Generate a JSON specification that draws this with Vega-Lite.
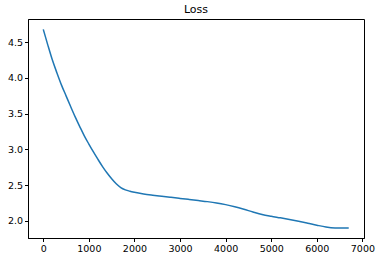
{
  "$schema": "https://vega.github.io/schema/vega-lite/v6.json",
  "autosize": {"type": "none"},
  "padding": {"left": 28, "top": 19, "right": 14, "bottom": 23},
  "width": 336,
  "height": 219,
  "title": {"text": "Loss", "font": "DejaVu Sans", "fontSize": 11, "fontWeight": "normal", "color": "#000000", "offset": 4},
  "config": {
    "view": {"stroke": "#000000", "strokeWidth": 1},
    "axis": {
      "grid": false,
      "domainColor": "#000000",
      "domainWidth": 1,
      "tickColor": "#000000",
      "tickSize": 3.5,
      "tickWidth": 1,
      "labelFont": "DejaVu Sans",
      "labelFontSize": 9.5,
      "labelColor": "#000000",
      "labelPadding": 2,
      "title": null
    }
  },
  "data": {
    "values": [
      {"step": 0, "loss": 4.68},
      {"step": 100, "loss": 4.46},
      {"step": 200, "loss": 4.25},
      {"step": 300, "loss": 4.07},
      {"step": 400, "loss": 3.9},
      {"step": 500, "loss": 3.75},
      {"step": 600, "loss": 3.6},
      {"step": 700, "loss": 3.455},
      {"step": 800, "loss": 3.32},
      {"step": 900, "loss": 3.19},
      {"step": 1000, "loss": 3.075},
      {"step": 1100, "loss": 2.965},
      {"step": 1200, "loss": 2.86},
      {"step": 1300, "loss": 2.76},
      {"step": 1400, "loss": 2.67},
      {"step": 1500, "loss": 2.59},
      {"step": 1600, "loss": 2.52},
      {"step": 1700, "loss": 2.467},
      {"step": 1800, "loss": 2.435},
      {"step": 1900, "loss": 2.415},
      {"step": 2000, "loss": 2.4},
      {"step": 2200, "loss": 2.377},
      {"step": 2400, "loss": 2.36},
      {"step": 2600, "loss": 2.345},
      {"step": 2800, "loss": 2.33},
      {"step": 3000, "loss": 2.315},
      {"step": 3200, "loss": 2.3},
      {"step": 3400, "loss": 2.285},
      {"step": 3600, "loss": 2.27},
      {"step": 3800, "loss": 2.252},
      {"step": 4000, "loss": 2.228},
      {"step": 4200, "loss": 2.198},
      {"step": 4400, "loss": 2.163},
      {"step": 4600, "loss": 2.125},
      {"step": 4800, "loss": 2.09},
      {"step": 5000, "loss": 2.065},
      {"step": 5200, "loss": 2.043},
      {"step": 5400, "loss": 2.02},
      {"step": 5600, "loss": 1.995},
      {"step": 5800, "loss": 1.968},
      {"step": 6000, "loss": 1.94},
      {"step": 6200, "loss": 1.915},
      {"step": 6400, "loss": 1.902},
      {"step": 6600, "loss": 1.9},
      {"step": 6700, "loss": 1.9}
    ]
  },
  "mark": {"type": "line", "color": "#1f77b4", "strokeWidth": 1.5, "interpolate": "monotone"},
  "encoding": {
    "x": {
      "field": "step", "type": "quantitative",
      "scale": {"domain": [-335, 7035], "nice": false, "zero": false},
      "axis": {"values": [0, 1000, 2000, 3000, 4000, 5000, 6000, 7000], "format": "d"}
    },
    "y": {
      "field": "loss", "type": "quantitative",
      "scale": {"domain": [1.761, 4.825], "nice": false, "zero": false},
      "axis": {"values": [2.0, 2.5, 3.0, 3.5, 4.0, 4.5], "format": ".1f"}
    }
  }
}
